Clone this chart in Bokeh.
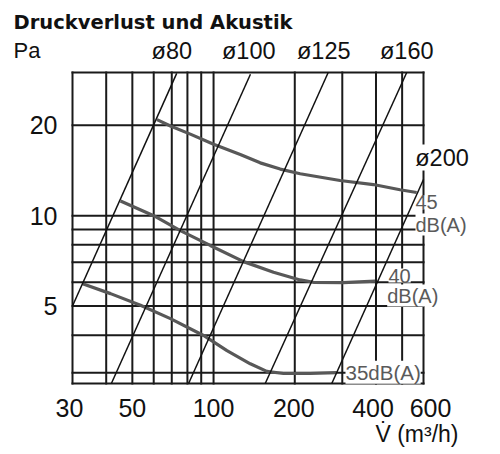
from bokeh.plotting import figure
from bokeh.models import Label, Range1d
from bokeh.core.properties import value
from bokeh.embed import file_html
from bokeh.resources import INLINE

# ---- axis / grid values ----
x_grid = [30, 40, 50, 60, 70, 80, 90, 100, 200, 300, 400, 500, 600]
y_grid = [3, 4, 5, 6, 7, 8, 9, 10, 20]
x_ticks = [30, 50, 100, 200, 400, 600]
y_ticks = [5, 10, 20]
x_tick_labels = ["30", "50", "100", "200", "400", "600"]
y_tick_labels = ["5", "10", "20"]

# ---- duct diameter lines (two read points each: V m3/h, Pa) ----
duct_names = ["ø80", "ø100", "ø125", "ø160", "ø200"]
duct_v = [[30, 73], [41.8, 137], [80.8, 266], [155.4, 520], [274.3, 600]]
duct_p = [[5.0, 29.8], [2.76, 29.6], [2.76, 30.0], [2.76, 30.0], [2.76, 13.2]]

# ---- acoustic curves ----
v45 = [61.7, 69.2, 82.0, 100, 125.6, 148.9, 176.6, 209.4, 294.4, 391, 491, 566]
p45 = [20.9, 19.9, 18.7, 17.3, 16.0, 15.0, 14.3, 13.8, 13.1, 12.7, 12.2, 11.95]
v40 = [45.2, 60, 75.3, 97.2, 129.2, 166.8, 209.4, 234.5, 303, 397]
p40 = [11.2, 10.0, 8.92, 7.96, 7.03, 6.48, 6.11, 6.0, 5.98, 6.05]
v35 = [32.7, 41.5, 53.6, 69.2, 91.8, 112.1, 136.8, 157.6, 181.6, 228, 286]
p35 = [5.93, 5.50, 5.03, 4.54, 3.99, 3.55, 3.21, 3.03, 2.98, 2.98, 3.0]

# diagram extent (data) and its place on the canvas (pixels)
X0, X1, Y0, Y1 = 30, 600, 2.76, 30
XP0, XP1, YP0, YP1 = 72, 423, 383, 72
W, H = 496, 450


def at(xp, yp):
    x = X0 * (X1 / X0) ** ((xp - XP0) / (XP1 - XP0))
    y = Y0 * (Y1 / Y0) ** ((YP0 - yp) / (YP0 - YP1))
    return x, y


xs, ys = at(0, H)
xe, ye = at(W, 0)

p = figure(width=W, height=H, x_axis_type="log", y_axis_type="log",
           x_axis_location=None, y_axis_location=None,
           x_range=Range1d(xs, xe), y_range=Range1d(ys, ye),
           output_backend="svg", toolbar_location=None,
           min_border=0, min_border_left=0, min_border_right=0,
           min_border_top=0, min_border_bottom=0)
p.title.visible = False
p.grid.visible = False
p.outline_line_color = None
p.background_fill_color = "white"
p.border_fill_color = "white"

GRID = "#1a1a1a"
# vertical grid lines and frame
p.segment(x0=x_grid, y0=[Y0] * len(x_grid), x1=x_grid, y1=[Y1] * len(x_grid),
          line_color=GRID, line_width=2, line_cap="square")
# horizontal grid lines and frame
hy = [Y0] + y_grid + [Y1]
p.segment(x0=[X0] * len(hy), y0=hy, x1=[X1] * len(hy), y1=hy,
          line_color=GRID, line_width=2, line_cap="square")

CURVE = "#585858"
for v, pp in ((v45, p45), (v40, p40), (v35, p35)):
    p.line(v, pp, line_color=CURVE, line_width=3.2)

for v, pp in zip(duct_v, duct_p):
    r = p.line(v, pp, line_color="#111111", line_width=1.5)
    r.level = "overlay"

# tick labels
xl_y = at(0, 407)[1]
p.text(x=x_ticks, y=[xl_y] * len(x_ticks), text=x_tick_labels,
       x_offset=[-3, 0, 0, -1, -3, 7],
       text_font=value("Liberation Sans"), text_font_size=value("25px"),
       text_align="center", text_baseline="middle", text_color="#111111")
yl_x = at(57, 0)[0]
p.text(x=[yl_x] * len(y_ticks), y=y_ticks, text=y_tick_labels,
       text_font=value("Liberation Sans"), text_font_size=value("25px"),
       text_align="right", text_baseline="middle", text_color="#111111")


def lab(xp, yp, text, size, align="left", font="Liberation Sans", color="#111111",
        bg=None, style="normal"):
    x, y = at(xp, yp)
    kw = dict(x=x, y=y, text=text, text_font=font, text_font_size=size,
              text_align=align, text_baseline="middle", text_color=color,
              text_font_style=style)
    if bg:
        kw["background_fill_color"] = bg
        kw["background_fill_alpha"] = 1
    p.add_layout(Label(**kw))


lab(13, 22, "Druckverlust und Akustik", "19.5px", font="DejaVu Sans", style="bold")
lab(13, 50, "Pa", "22px")
lab(171.3, 50, duct_names[0], "23.5px", align="center")
lab(248.3, 50, duct_names[1], "23.5px", align="center")
lab(323.3, 50, duct_names[2], "23.5px", align="center")
lab(406.3, 50, duct_names[3], "23.5px", align="center")
lab(441.5, 157, duct_names[4], "23.5px", align="center", bg="white")

GREY = "#5a5a5a"
lab(415, 201.7, "45", "20px", color=GREY, bg="white")
lab(415, 224, "dB(A)", "20px", color=GREY, bg="white")
lab(388, 275, "40", "20px", color=GREY, bg="white")
lab(386.7, 295, "dB(A)", "20px", color=GREY, bg="white")
lab(345, 371.7, "35dB(A)", "20.5px", color=GREY, bg="white")
lab(458, 433, "V\u0307 (m³/h)", "23px", align="right")

open("out.html", "w").write(file_html(p, INLINE))
